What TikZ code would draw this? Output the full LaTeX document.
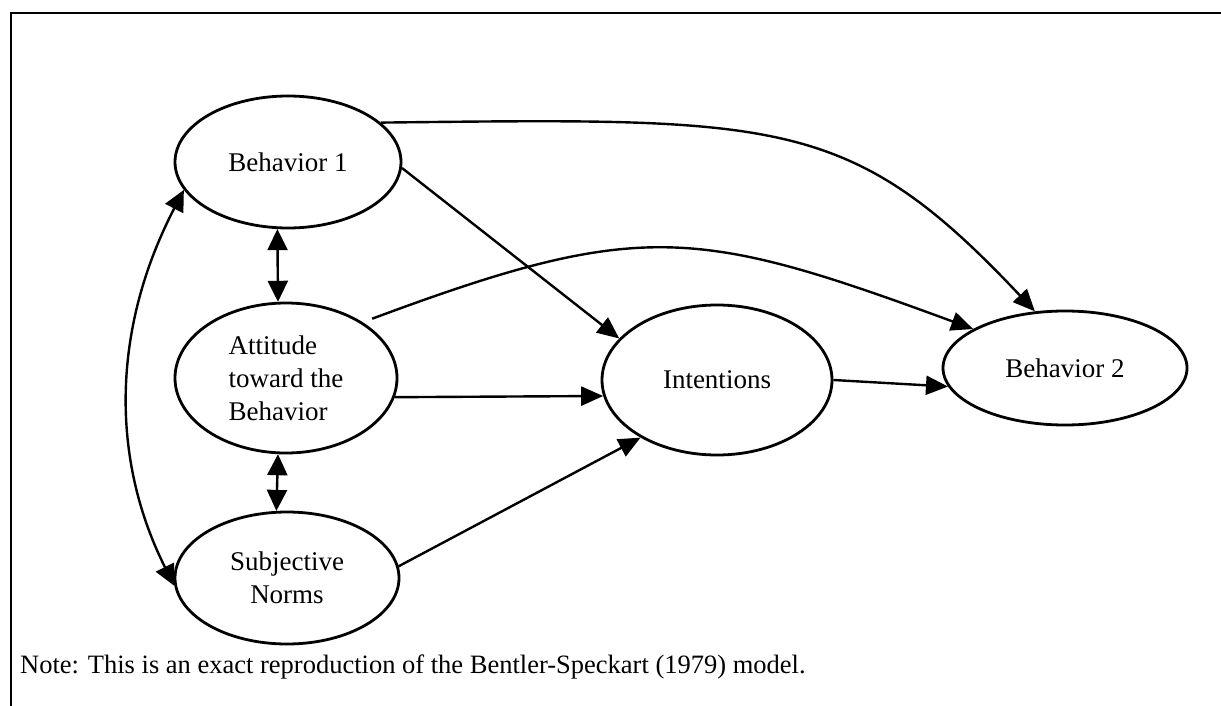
\documentclass[tikz,border=0pt]{standalone}
\usepackage{fontspec}
\setmainfont{Liberation Serif}
\usetikzlibrary{arrows.meta,shapes.geometric}

\begin{document}
\begin{tikzpicture}[x=1pt,y=-1pt,
  latent/.style={draw, ellipse, line width=2.8pt, inner sep=0pt,
    font=\fontsize{27}{33}\selectfont, align=center},
  path/.style={line width=2.4pt, -{Triangle[length=22pt,width=19pt]}},
  twoway/.style={line width=2.4pt,
    {Triangle[length=21pt,width=20pt]}-{Triangle[length=21pt,width=20pt]}},
]
\useasboundingbox (0,0) rectangle (1221,706);

% frame
\draw[line width=2pt] (1221,13) -- (11,13) -- (11,706);

% constructs
\node[latent, minimum width=226pt, minimum height=132pt] (b1) at (288,162) {Behavior 1};
\node[latent, minimum width=222pt, minimum height=150pt, align=left] (att) at (286,378)
  {Attitude\\toward the\\Behavior};
\node[latent, minimum width=224pt, minimum height=132pt] (sub) at (287,578) {Subjective\\Norms};
\node[latent, minimum width=230pt, minimum height=150pt] (int) at (717,380) {Intentions};
\node[latent, minimum width=244pt, minimum height=114pt] (b2) at (1065,368) {Behavior 2};

\node[anchor=west, inner sep=0pt, font=\fontsize{26.5}{33}\selectfont] (note) at (20,667)
  {Note: This is an exact reproduction of the Bentler-Speckart (1979) model.};

% paths
\draw[path] (b1.23) .. controls (780,118) and (850,115) .. (b2.118);
\draw[path, shorten <=10pt] (att.36) .. controls (640,219) and (696,227) .. (b2.157);
\draw[path] (b1.-3) -- (int.157);
\draw[path] (att.-10) -- (int.188);
\draw[path] (sub.6) -- (int.217);
\draw[path] (int.0) -- (b2.189);

% covariances
\draw[twoway] (b1.195) .. controls (111,330) and (111,460) .. (sub.184);
\draw[twoway] (b1.-99) -- (att.96);
\draw[twoway] (att.-96) -- (sub.99);
\end{tikzpicture}
\end{document}
